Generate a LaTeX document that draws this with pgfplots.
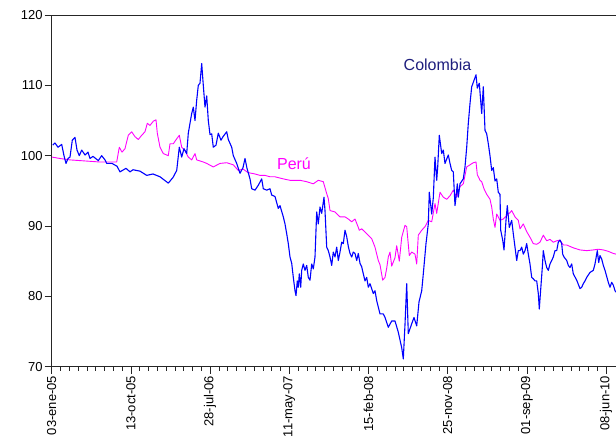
\documentclass[border=0pt]{standalone}
\usepackage{fontspec}
\setmainfont{Liberation Sans}
\usepackage{pgfplots}
\pgfplotsset{compat=1.18}
\definecolor{colline}{RGB}{0,0,255}
\definecolor{perline}{RGB}{255,0,255}
\definecolor{coltext}{RGB}{30,30,125}
\begin{document}
\begin{tikzpicture}
\begin{axis}[
  scale only axis,
  width=564.3pt, height=351.7pt,
  xmin=51.7, xmax=616, ymin=70, ymax=120,
  axis x line*=bottom, axis y line*=left,
  axis line style={black!85, line width=0.9pt},
  tick align=outside,
  major tick length=7pt, minor tick length=4pt,
  tick style={black!85, line width=0.8pt},
  xtick={51.7,130.9,210.1,289.3,368.5,447.7,526.9,606.1},
  xticklabels={03-ene-05,13-oct-05,28-jul-06,11-may-07,15-feb-08,25-nov-08,01-sep-09,08-jun-10},
  minor x tick num=8,
  ytick={70,80,90,100,110,120},
  every tick label/.append style={font=\fontsize{13}{15}\selectfont},
  xticklabel style={rotate=90, anchor=east, inner sep=2pt},
  yticklabel style={inner sep=2pt},
  /pgf/number format/assume math mode=true,
  clip=true,
]
\addplot[perline, line width=0.9pt, line join=round] coordinates {
(52,99.8)(60,99.6)(70,99.4)(80,99.3)(90,99.2)(100,99.1)(110,99.1)(116.7,99.1)
(119.3,101.2)(122,100.5)(125,101)(128.3,102.9)(131.7,103.4)(135,102.7)(138.3,102.3)
(141.7,102.9)(145,103.4)(147.3,104.6)(150,104.3)(153.3,104.9)(156,105.1)(157.3,103.2)
(160,101.2)(163.3,100.3)(168.3,100)(170,101.7)(173.3,101.7)(176.7,102.4)(179.3,102.9)
(181.7,101.2)(185,100.7)(188.3,99.8)(191.7,99.4)(195,100.3)(196.7,99.4)(203.3,99.1)
(206.7,98.9)(213.3,98.4)(220,98.9)(226.7,99)(233.3,98.7)(238.3,97.9)(243,98.1)
(248,97.6)(255,97.4)(260,97.2)(265,97.2)(270,97)(275,97)(283.3,96.7)(290,96.5)
(300,96.5)(306.7,96.3)(313.3,96)(318.3,96.5)(323.3,96.3)(326.7,94.6)(328.3,93.9)
(330,92.2)(335,92)(340,91.3)(345,91.3)(348.3,91)(351.7,90.6)(355,91)(358.3,89.8)
(359.3,89.4)(361.7,89.6)(366.7,88.9)(371.7,88.2)(375,87)(378.3,85.1)(380,84.5)
(382.7,82.3)(385,82.7)(386.7,84)(388.3,85.6)(390,86.3)(391.7,84.3)(395,85.5)(396.7,87.2)(399.3,85)
(401.7,88.4)(405,90.1)(406.7,89.9)(409.3,85.8)(411.7,86.3)(415,86)(416.7,84.6)
(418.3,88.7)(421.7,89.4)(425,89.9)(428.3,90.8)(431.7,90.6)(435,93.2)(436.7,91.8)
(440,94.8)(443.3,94.1)(446.7,93.8)(450,94.3)(453.3,95.1)(456.7,94.1)(460,95.6)
(463.3,96)(466.7,98.4)(470,98.7)(473.3,99)(476,99.1)(477.3,97.3)(480,96.5)(481.7,96.3)
(484,95.3)(486.7,94.5)(490,93.8)(491.7,92.7)(493.3,91)(495,89.8)(496.7,91.7)
(498.3,91.3)(500,90.8)(503.3,91)(506.7,91.5)(510,91.9)(511.7,92.2)(515,91.3)
(518.3,90.8)(520,89.6)(523.3,90.3)(526.7,89.2)(530,88.4)(533.3,87.5)(536.7,87.4)
(540,87.7)(543.3,88.7)(546.7,87.9)(550,88.1)(553.3,87.7)(556.7,87.9)(560,88)
(563.3,87.3)(566.7,87.3)(573.3,86.9)(580,86.6)(586.7,86.5)(593.3,86.6)(598.3,86.7)
(603.3,86.6)(608.3,86.4)(613.3,86.1)(616,86)
};
\addplot[colline, line width=1.1pt, line join=round] coordinates {
(52.7,101.5)(55,101.8)(58,101.2)(61.7,101.6)(64,100)(66,98.9)(68,99.6)(70,99.8)
(72.3,102.2)(75,102.6)(77,100.8)(79.3,100)(81.7,100.8)(85,100.1)(88,100.5)(90,99.6)
(93,99.9)(98.3,99.3)(101.7,100)(105,99.4)(106.7,98.9)(112,98.9)(117,98.5)(120,97.7)
(126,98.2)(130,97.7)(133,98)(140,97.8)(146.7,97.2)(153,97.4)(160,97)(168.3,96.1)
(173,96.9)(176.7,97.9)(179.3,101.2)(181.7,99.8)(184,101)(186.7,100.3)(188.3,103.2)
(191.7,106)(193.3,106.9)(195,105)(196.7,107.9)(198.3,110)(200,110.3)(201.7,113.1)
(203.3,110)(205,106.9)(206.7,108.5)(208.3,105)(210,103)(211.7,103.1)(213.3,101.2)
(216,101.5)(218.3,103.2)(221,102.2)(223,102.7)(226.7,103.4)(228.3,102.3)(231.7,101.2)
(233.3,100)(236.7,98.9)(240,97.5)(243,98.3)(245,99.6)(247,98.2)(250,96.7)(251.7,95.3)
(255,95.1)(258.3,95.8)(261.7,96.7)(263.3,95.3)(266.7,95.1)(270,95.3)(271.7,94.4)
(275,94.2)(278.3,92.5)(280,92.9)(283.3,91.3)(285,90.3)(286.7,88.9)(288.3,87.5)
(290,85.6)(291.7,84.7)(293.3,82.7)(295,80.8)(296,80.1)(297.3,82.2)(298.3,81.3)
(299.3,83.2)(300.7,81.3)(301.7,83.7)(303.3,84.6)(305,83.7)(306.7,84.4)(308.3,82.7)
(310,82.3)(311.7,84.6)(313.3,83.9)(315,85.6)(316,89.4)(316.7,92)(318.3,90.3)
(320,92.7)(321.7,91.8)(324,94.1)(325,92.2)(326.7,87)(328.3,86.5)(330,85.6)
(331.7,84.4)(333.3,86.3)(335,85.6)(336.7,87)(338.3,85.1)(340,86.3)(341.7,87.7)
(343.3,87.5)(345,89.4)(346.7,88.5)(348.3,87.1)(350,86.1)(351.7,85.6)(353.3,86.3)
(355,86.1)(356.7,85.1)(358.3,86.1)(360,84.7)(361.7,84.2)(363.3,83.2)(365,82.2)
(366.7,82.7)(368.3,81.3)(370,81.8)(371.7,81.1)(373.3,80.4)(375,80.8)(376.7,79.4)
(380,77.5)(383.3,77.5)(385,77)(388.3,75.6)(391.7,76.5)(395,76.5)
(398.3,74.9)(401.7,72.7)(403.3,71.1)(405,76)(406.7,81.8)(408.3,74.7)(411.7,76.1)
(414,77)(416.7,75.8)(419,79.2)(421.7,80.8)(423.3,83.2)(426,87.5)(428.3,90.3)
(429.3,94.8)(431.7,91.7)(433.3,94)(435,99.8)(436.7,96.5)(437.7,98.4)(439.3,102.9)
(441.7,100.3)(443.3,100.8)(445,98.9)(448.3,100.1)(450,98.9)(451.7,97.9)(453.3,97.7)
(455,92.9)(456,94.1)(457.3,96)(458.3,94.1)(460,96)(463.3,96.7)(465,98.4)(466.7,101.2)
(468.3,104.6)(470,107.4)(471.7,109.8)(474,110.7)(476,111.5)(477.3,109.6)(479.3,110.3)
(481.7,106)(483.3,109.8)(485,103.6)(486.7,103.1)(488.3,101.7)(490,100)(491.7,97.9)
(493.3,98.3)(495,96.4)(496.7,96.7)(498.3,94.8)(500,94.5)(500.7,89.4)(502.7,88)
(504,86.6)(506,90.8)(507.3,92.9)(509.3,89.8)(511.7,90.8)(513.3,88.9)(515,87)
(516.7,85.1)(518.3,86.5)(520,86.5)(521.7,87)(523.3,86)(525,86.5)(526.7,87.5)
(528.3,86)(530,84.6)(531.7,82.7)(533.3,82.5)(535,82.2)(536.7,82.2)(538.3,80.4)
(539.3,78.2)(540.7,81)(542.3,84.1)(543.3,86.5)(545,85.1)(546.7,84.1)(548.3,83.7)
(550,84.6)(551.7,85.1)(553.3,85.6)(555,86.5)(556.7,86.5)(558.3,87.7)(560,88)
(561.7,87.5)(562.7,86)(564,85.6)(566.7,85.1)(568.3,84.4)(570,84.1)(571.7,84.6)
(573.3,83.2)(576.7,82.3)(580,81.1)(581.7,81.3)(583.3,81.8)(585,82.2)(586.7,82.7)
(590,83.4)(593.3,83.7)(595,84.6)(597.3,86.5)(598.7,84.8)(600,85.8)(601.7,85.3)
(603.3,84.4)(605,83.7)(608.3,82)(610,81.3)(611.7,82)(613.3,81.6)(615,80.8)(616,80.6)
};
\node[coltext, font=\fontsize{16}{18}\selectfont, inner sep=0pt] at (axis cs:437.5,112.95) {Colombia};
\node[perline, font=\fontsize{16}{18}\selectfont, inner sep=0pt] at (axis cs:294,98.8) {Perú};
\draw[black!85, line width=0.9pt] (rel axis cs:0,1) -- (rel axis cs:1,1);
\coordinate (ll) at (rel axis cs:0,0);
\coordinate (ur) at (rel axis cs:1,1);
\end{axis}
\pgfresetboundingbox
\path ([shift={(-51.7pt,-78.3pt)}]ll) rectangle ([shift={(0pt,15pt)}]ur);
\end{tikzpicture}
\end{document}
